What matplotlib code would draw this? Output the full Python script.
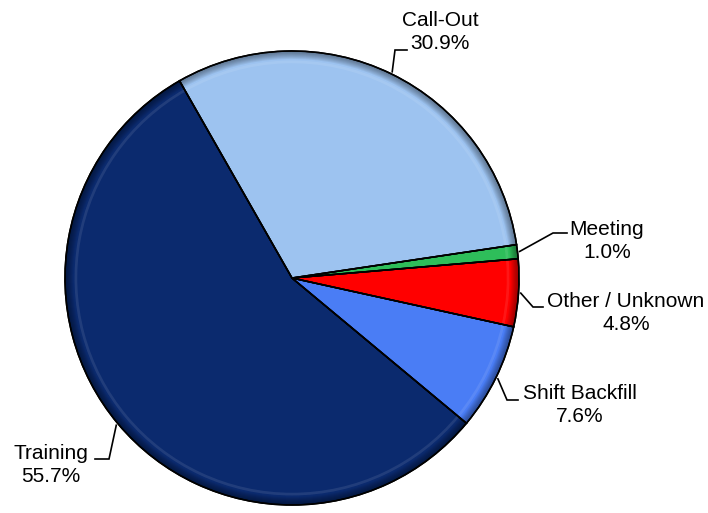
import numpy as np
import matplotlib
matplotlib.use("Agg")
import matplotlib.pyplot as plt
from matplotlib.patches import Wedge

# share of hours by category, drawn counter-clockwise from the Training slice
categories = ["Training", "Shift Backfill", "Other / Unknown", "Meeting", "Call-Out"]
shares = [55.7, 7.6, 4.8, 1.0, 30.9]
colors = ["#0B2A6E", "#4A7DF5", "#FF0000", "#2EBE5A", "#9DC3F0"]

# label placement in pixels (text centre, elbow, end of leader)
label_text = [(51, 465), (580, 405), (626, 313), (607, 241), (440, 32)]
label_elbow = [(109, 459), (507, 400), (533, 307), (553, 233), (395, 50)]
label_end = [(95, 459), (518, 400), (543, 307), (567, 233), (407, 50)]

W, H = 708, 513
cx, cy, R = 292, H - 278, 227
start = 119.7

plt.rcParams["font.family"] = ["Liberation Sans", "DejaVu Sans"]

fig = plt.figure(figsize=(W / 100, H / 100), dpi=100)
ax = fig.add_axes([0, 0, 1, 1])

wedges, _ = ax.pie(shares, colors=colors, startangle=start, counterclock=True,
                   center=(cx, cy), radius=R,
                   wedgeprops=dict(edgecolor="black", linewidth=1.1))
ax.set_xlim(0, W)
ax.set_ylim(0, H)
ax.set_aspect("equal")
ax.axis("off")

# bevel look: dark rim and a faint light band just inside it
for w in wedges:
    t1, t2 = w.theta1, w.theta2
    n = 8
    for i in range(n):
        r0 = R * (1 - 0.035 * (i + 1) / n)
        ax.add_patch(Wedge((cx, cy), R, t1, t2, width=R - r0,
                           facecolor="black", alpha=0.06, linewidth=0))
    ax.add_patch(Wedge((cx, cy), R * 0.958, t1, t2, width=R * 0.012,
                       facecolor="white", alpha=0.09, linewidth=0))
    ax.add_patch(Wedge((cx, cy), R, t1, t2, width=R, facecolor="none",
                       edgecolor="black", linewidth=1.1))

# labels with leader lines
angle = start
for i, (name, val) in enumerate(zip(categories, shares)):
    mid = np.deg2rad(angle + val * 3.6 / 2)
    angle += val * 3.6
    sx = cx + R * 1.01 * np.cos(mid)
    sy = cy + R * 1.01 * np.sin(mid)
    ex, ey = label_elbow[i]
    fx, fy = label_end[i]
    ax.plot([sx, ex, fx], [sy, H - ey, H - fy], color="black", lw=1.2,
            solid_joinstyle="miter")
    tx, ty = label_text[i]
    ax.text(tx, H - ty, f"{name}\n{val:.1f}%", ha="center", va="center",
            fontsize=15, linespacing=1.3, color="black")

fig.savefig("out.png", dpi=100)
